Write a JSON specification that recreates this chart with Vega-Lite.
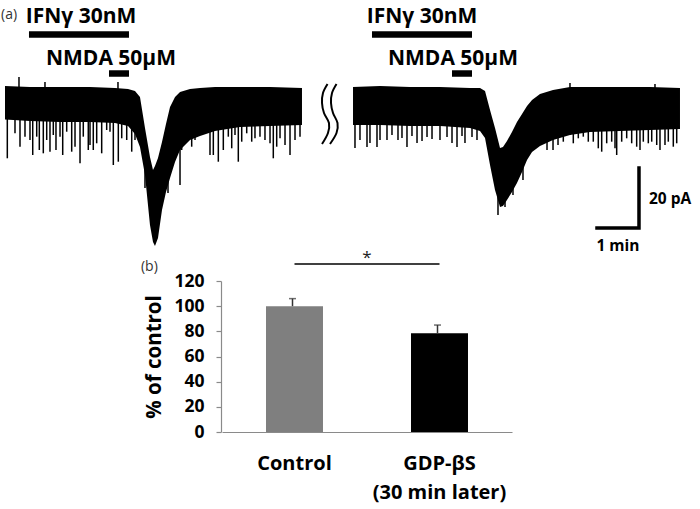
{
  "$schema": "https://vega.github.io/schema/vega-lite/v6.json",
  "width": 700,
  "height": 509,
  "padding": 0,
  "autosize": {"type": "none"},
  "background": "white",
  "config": {"view": {"stroke": null}, "font": "Open Sans"},
  "datasets": {
    "trace": [
      {"trace": "1", "t": 0, "top": 4.67, "bot": -6.5},
      {"trace": "1", "t": 0.595, "top": 4.33, "bot": -7},
      {"trace": "1", "t": 1.31, "top": 4.33, "bot": -7.33},
      {"trace": "1", "t": 2.024, "top": 4.33, "bot": -7.33},
      {"trace": "1", "t": 2.619, "top": 4, "bot": -7.67},
      {"trace": "1", "t": 2.929, "top": 3.67, "bot": -8.67},
      {"trace": "1", "t": 3.095, "top": 3, "bot": -11.33},
      {"trace": "1", "t": 3.214, "top": 1, "bot": -15.67},
      {"trace": "1", "t": 3.333, "top": -9.33, "bot": -25},
      {"trace": "1", "t": 3.452, "top": -19, "bot": -41.67},
      {"trace": "1", "t": 3.524, "top": -23.33, "bot": -47.33},
      {"trace": "1", "t": 3.571, "top": -22, "bot": -48.67},
      {"trace": "1", "t": 3.643, "top": -19.33, "bot": -46},
      {"trace": "1", "t": 3.738, "top": -14, "bot": -36.67},
      {"trace": "1", "t": 3.833, "top": -8, "bot": -30.67},
      {"trace": "1", "t": 3.929, "top": -2.33, "bot": -26},
      {"trace": "1", "t": 4.048, "top": 1, "bot": -20.67},
      {"trace": "1", "t": 4.167, "top": 2.67, "bot": -16.67},
      {"trace": "1", "t": 4.405, "top": 3.67, "bot": -13.33},
      {"trace": "1", "t": 4.643, "top": 4, "bot": -12},
      {"trace": "1", "t": 5, "top": 4.33, "bot": -10.33},
      {"trace": "1", "t": 5.595, "top": 4.33, "bot": -9},
      {"trace": "1", "t": 6.31, "top": 4.33, "bot": -8.67},
      {"trace": "1", "t": 7.071, "top": 4, "bot": -8.33},
      {"trace": "2", "t": 8.286, "top": 4.33, "bot": -8.33},
      {"trace": "2", "t": 8.929, "top": 4.67, "bot": -8.33},
      {"trace": "2", "t": 9.643, "top": 4.33, "bot": -8.67},
      {"trace": "2", "t": 10.357, "top": 4.33, "bot": -8.67},
      {"trace": "2", "t": 11.071, "top": 4, "bot": -9.33},
      {"trace": "2", "t": 11.31, "top": 4, "bot": -10.33},
      {"trace": "2", "t": 11.429, "top": 3, "bot": -12.67},
      {"trace": "2", "t": 11.548, "top": -3.33, "bot": -21.67},
      {"trace": "2", "t": 11.667, "top": -9.33, "bot": -30},
      {"trace": "2", "t": 11.786, "top": -16, "bot": -35.67},
      {"trace": "2", "t": 11.857, "top": -15.67, "bot": -35.33},
      {"trace": "2", "t": 11.952, "top": -13.67, "bot": -33.33},
      {"trace": "2", "t": 12.071, "top": -10.67, "bot": -30.67},
      {"trace": "2", "t": 12.19, "top": -7.33, "bot": -27.67},
      {"trace": "2", "t": 12.31, "top": -4.67, "bot": -24},
      {"trace": "2", "t": 12.429, "top": -2, "bot": -20},
      {"trace": "2", "t": 12.548, "top": 0, "bot": -17.33},
      {"trace": "2", "t": 12.738, "top": 2, "bot": -15.33},
      {"trace": "2", "t": 13.048, "top": 3.33, "bot": -13.33},
      {"trace": "2", "t": 13.452, "top": 4.33, "bot": -11.67},
      {"trace": "2", "t": 13.929, "top": 4.33, "bot": -10.67},
      {"trace": "2", "t": 14.643, "top": 4.33, "bot": -10.33},
      {"trace": "2", "t": 15.357, "top": 4.33, "bot": -10},
      {"trace": "2", "t": 16.071, "top": 4, "bot": -9.67}
    ],
    "spikes": [
      {"t": 0.055, "base": -5, "peak": -19.43},
      {"t": 0.238, "base": -5, "peak": -11.1},
      {"t": 0.357, "base": -5, "peak": -15.57},
      {"t": 0.476, "base": -5, "peak": -12.23},
      {"t": 0.595, "base": -5, "peak": -13.33},
      {"t": 0.66, "base": -5, "peak": -18.33},
      {"t": 0.755, "base": -5, "peak": -12.23},
      {"t": 0.817, "base": -5, "peak": -16.67},
      {"t": 0.912, "base": -5, "peak": -17.77},
      {"t": 0.993, "base": -5, "peak": -13.33},
      {"t": 1.071, "base": -5, "peak": -17.23},
      {"t": 1.15, "base": -5, "peak": -11.67},
      {"t": 1.214, "base": -5, "peak": -16.67},
      {"t": 1.31, "base": -5, "peak": -12.23},
      {"t": 1.374, "base": -5, "peak": -18.33},
      {"t": 1.469, "base": -5, "peak": -10.57},
      {"t": 1.588, "base": -5, "peak": -17.23},
      {"t": 1.667, "base": -5, "peak": -15.57},
      {"t": 1.786, "base": -5, "peak": -21.1},
      {"t": 1.864, "base": -5, "peak": -12.23},
      {"t": 1.983, "base": -5, "peak": -16.67},
      {"t": 2.024, "base": -5, "peak": -15},
      {"t": 2.102, "base": -5, "peak": -16.67},
      {"t": 2.183, "base": -5, "peak": -14.43},
      {"t": 2.302, "base": -5, "peak": -17.77},
      {"t": 2.421, "base": -5, "peak": -10},
      {"t": 2.5, "base": -5, "peak": -10.57},
      {"t": 2.579, "base": -5, "peak": -21.67},
      {"t": 2.698, "base": -5, "peak": -20.57},
      {"t": 2.779, "base": -5, "peak": -12.77},
      {"t": 2.898, "base": -5, "peak": -13.33},
      {"t": 3.017, "base": -5, "peak": -17.23},
      {"t": 3.095, "base": -5, "peak": -13.33},
      {"t": 3.333, "base": -20, "peak": -29.33},
      {"t": 3.881, "base": -22, "peak": -31},
      {"t": 4.167, "base": -14, "peak": -28.33},
      {"t": 4.207, "base": -10, "peak": -16.67},
      {"t": 4.326, "base": -10, "peak": -13.9},
      {"t": 4.445, "base": -8, "peak": -15.57},
      {"t": 4.524, "base": -8, "peak": -13.33},
      {"t": 4.643, "base": -8, "peak": -11.1},
      {"t": 4.762, "base": -8, "peak": -10.57},
      {"t": 4.881, "base": -7, "peak": -18.33},
      {"t": 4.96, "base": -7, "peak": -18.33},
      {"t": 5.079, "base": -7, "peak": -20.57},
      {"t": 5.198, "base": -7, "peak": -16.67},
      {"t": 5.317, "base": -7, "peak": -12.23},
      {"t": 5.398, "base": -7, "peak": -16.1},
      {"t": 5.476, "base": -7, "peak": -11.67},
      {"t": 5.555, "base": -7, "peak": -20.57},
      {"t": 5.636, "base": -7, "peak": -13.9},
      {"t": 5.755, "base": -7, "peak": -11.1},
      {"t": 5.874, "base": -7, "peak": -13.9},
      {"t": 5.952, "base": -7, "peak": -12.77},
      {"t": 6.071, "base": -7, "peak": -12.23},
      {"t": 6.19, "base": -7, "peak": -13.33},
      {"t": 6.31, "base": -7, "peak": -14.43},
      {"t": 6.388, "base": -7, "peak": -19.43},
      {"t": 6.469, "base": -7, "peak": -15.57},
      {"t": 6.548, "base": -7, "peak": -12.77},
      {"t": 6.667, "base": -7, "peak": -15},
      {"t": 6.786, "base": -7, "peak": -18.33},
      {"t": 6.905, "base": -7, "peak": -13.33},
      {"t": 7.024, "base": -7, "peak": -12.23},
      {"t": 0.333, "base": 3, "peak": 7.67},
      {"t": 0.952, "base": 3, "peak": 6},
      {"t": 2.69, "base": 3, "peak": 6},
      {"t": 8.333, "base": -6, "peak": -16},
      {"t": 8.452, "base": -6, "peak": -13.33},
      {"t": 8.619, "base": -6, "peak": -15.67},
      {"t": 8.69, "base": -6, "peak": -14.33},
      {"t": 8.857, "base": -6, "peak": -15.67},
      {"t": 8.929, "base": -6, "peak": -13.33},
      {"t": 9.095, "base": -6, "peak": -13.33},
      {"t": 9.214, "base": -6, "peak": -11.67},
      {"t": 9.357, "base": -6, "peak": -13.33},
      {"t": 9.452, "base": -6, "peak": -12.67},
      {"t": 9.571, "base": -6, "peak": -15.67},
      {"t": 9.69, "base": -6, "peak": -12},
      {"t": 9.81, "base": -6, "peak": -14.33},
      {"t": 9.929, "base": -6, "peak": -13.67},
      {"t": 10.048, "base": -6, "peak": -12.33},
      {"t": 10.167, "base": -6, "peak": -13},
      {"t": 10.357, "base": -6, "peak": -13.33},
      {"t": 10.524, "base": -6, "peak": -12.33},
      {"t": 10.643, "base": -6, "peak": -14.33},
      {"t": 10.762, "base": -6, "peak": -15.67},
      {"t": 10.881, "base": -6, "peak": -12},
      {"t": 10.952, "base": -6, "peak": -14.33},
      {"t": 11.119, "base": -6, "peak": -12.33},
      {"t": 11.238, "base": -6, "peak": -13.33},
      {"t": 11.738, "base": -30, "peak": -38.33},
      {"t": 11.905, "base": -30, "peak": -35.67},
      {"t": 12.095, "base": -25, "peak": -31.67},
      {"t": 12.333, "base": -20, "peak": -26.67},
      {"t": 12.429, "base": -12, "peak": -15.67},
      {"t": 12.571, "base": -12, "peak": -16.67},
      {"t": 12.738, "base": -10, "peak": -14.33},
      {"t": 12.905, "base": -10, "peak": -16.67},
      {"t": 13.048, "base": -9, "peak": -16.67},
      {"t": 13.167, "base": -9, "peak": -15},
      {"t": 13.293, "base": -8, "peak": -13.9},
      {"t": 13.452, "base": -8, "peak": -11.67},
      {"t": 13.452, "base": 3, "peak": 5.67},
      {"t": 13.531, "base": -8, "peak": -14.43},
      {"t": 13.65, "base": -8, "peak": -12.77},
      {"t": 13.769, "base": -8, "peak": -12.23},
      {"t": 13.888, "base": -8, "peak": -13.9},
      {"t": 14.007, "base": -8, "peak": -13.9},
      {"t": 14.126, "base": -8, "peak": -16.1},
      {"t": 14.207, "base": -8, "peak": -17.23},
      {"t": 14.326, "base": -8, "peak": -14.43},
      {"t": 14.445, "base": -8, "peak": -13.9},
      {"t": 14.524, "base": -8, "peak": -16.1},
      {"t": 14.564, "base": -8, "peak": -18.33},
      {"t": 14.683, "base": -8, "peak": -13.9},
      {"t": 14.802, "base": -8, "peak": -12.77},
      {"t": 14.921, "base": -8, "peak": -14.43},
      {"t": 15.04, "base": -8, "peak": -15.57},
      {"t": 15.119, "base": -8, "peak": -16.67},
      {"t": 15.198, "base": -8, "peak": -13.9},
      {"t": 15.317, "base": -8, "peak": -14.43},
      {"t": 15.398, "base": -8, "peak": -13.9},
      {"t": 15.517, "base": -8, "peak": -15},
      {"t": 15.595, "base": -8, "peak": -16.67},
      {"t": 15.714, "base": -8, "peak": -15},
      {"t": 15.793, "base": -8, "peak": -13.9},
      {"t": 15.912, "base": -8, "peak": -15.57},
      {"t": 15.993, "base": -8, "peak": -14.43},
      {"t": 15.476, "base": 3, "peak": 5.33}
    ],
    "drugbars": [
      {"drug": "IFNγ", "t": 0.571, "t2": 2.952, "I": 21.83},
      {"drug": "NMDA", "t": 2.476, "t2": 2.952, "I": 8.83},
      {"drug": "IFNγ", "t": 8.738, "t2": 11.119, "I": 21.83},
      {"drug": "NMDA", "t": 10.643, "t2": 11.119, "I": 8.83}
    ],
    "labels": [
      {"kind": "drug", "text": "IFNγ 30nM", "t": 1.81, "I": 27.83},
      {"kind": "drug", "text": "IFNγ 30nM", "t": 9.929, "I": 27.83},
      {"kind": "drug", "text": "NMDA 50μM", "t": 2.524, "I": 13.67},
      {"kind": "drug", "text": "NMDA 50μM", "t": 10.667, "I": 13.67},
      {"kind": "scaleL", "text": "20 pA", "t": 15.333, "I": -33},
      {"kind": "scaleC", "text": "1 min", "t": 14.595, "I": -48.67},
      {"kind": "panel", "text": "(a)", "t": -0.095, "I": 28.33},
      {"kind": "panel", "text": "(b)", "t": 3.238, "I": -55.67},
      {"kind": "star", "text": "*", "t": 8.619, "I": -54.33}
    ],
    "breakmark": [
      {"curve": "1", "k": 0, "t": 7.679, "I": 5.33},
      {"curve": "1", "k": 1, "t": 7.571, "I": 2.33},
      {"curve": "1", "k": 2, "t": 7.548, "I": -1},
      {"curve": "1", "k": 3, "t": 7.595, "I": -4.33},
      {"curve": "1", "k": 4, "t": 7.714, "I": -7.67},
      {"curve": "1", "k": 5, "t": 7.69, "I": -11},
      {"curve": "1", "k": 6, "t": 7.548, "I": -14.67},
      {"curve": "2", "k": 0, "t": 7.893, "I": 5.33},
      {"curve": "2", "k": 1, "t": 7.786, "I": 2.33},
      {"curve": "2", "k": 2, "t": 7.762, "I": -1},
      {"curve": "2", "k": 3, "t": 7.81, "I": -4.33},
      {"curve": "2", "k": 4, "t": 7.917, "I": -7.67},
      {"curve": "2", "k": 5, "t": 7.893, "I": -11},
      {"curve": "2", "k": 6, "t": 7.738, "I": -14.67}
    ],
    "scalebar": [
      {"k": 0, "t": 15.095, "I": -22.67},
      {"k": 1, "t": 15.095, "I": -42.67},
      {"k": 2, "t": 14.095, "I": -42.67}
    ],
    "bars": [
      {"group": "Control", "value": 100, "hi": 106},
      {"group": "GDP-βS", "value": 78.5, "hi": 85}
    ],
    "sig": [
      {"from": "Control", "to": "GDP-βS", "level": 133.5}
    ]
  },
  "resolve": {
    "scale": {"x": "independent", "y": "independent", "color": "independent"},
    "axis": {"x": "independent", "y": "independent"}
  },
  "layer": [
    {
      "layer": [
        {
          "data": {"name": "trace"},
          "mark": {"type": "area", "color": "black", "interpolate": "linear"},
          "encoding": {
            "x": {"field": "t", "type": "quantitative", "axis": null, "scale": {"domain": [-0.119048, 16.547619], "nice": false, "zero": false}},
            "y": {"field": "top", "type": "quantitative", "axis": null, "scale": {"domain": [-136.3333, 33.3333], "nice": false, "zero": false}},
            "y2": {"field": "bot"},
            "detail": {"field": "trace"}
          }
        },
        {
          "data": {"name": "spikes"},
          "mark": {"type": "rule", "color": "black", "strokeWidth": 1.5},
          "encoding": {
            "x": {"field": "t", "type": "quantitative", "axis": null, "scale": {"domain": [-0.119048, 16.547619], "nice": false, "zero": false}},
            "y": {"field": "base", "type": "quantitative", "axis": null, "scale": {"domain": [-136.3333, 33.3333], "nice": false, "zero": false}},
            "y2": {"field": "peak"}
          }
        },
        {
          "data": {"name": "drugbars"},
          "mark": {"type": "rule", "color": "black", "strokeWidth": 6.5, "strokeCap": "butt"},
          "encoding": {
            "x": {"field": "t", "type": "quantitative", "axis": null, "scale": {"domain": [-0.119048, 16.547619], "nice": false, "zero": false}},
            "x2": {"field": "t2"},
            "y": {"field": "I", "type": "quantitative", "axis": null, "scale": {"domain": [-136.3333, 33.3333], "nice": false, "zero": false}}
          }
        },
        {
          "data": {"name": "labels"},
          "transform": [{"filter": "datum.kind == 'drug'"}],
          "mark": {"type": "text", "font": "Open Sans", "fontWeight": "bold", "fontSize": 21, "align": "center", "baseline": "middle", "color": "black"},
          "encoding": {
            "x": {"field": "t", "type": "quantitative", "axis": null, "scale": {"domain": [-0.119048, 16.547619], "nice": false, "zero": false}},
            "y": {"field": "I", "type": "quantitative", "axis": null, "scale": {"domain": [-136.3333, 33.3333], "nice": false, "zero": false}},
            "text": {"field": "text"}
          }
        },
        {
          "data": {"name": "labels"},
          "transform": [{"filter": "datum.kind == 'scaleL'"}],
          "mark": {"type": "text", "font": "Open Sans", "fontWeight": "bold", "fontSize": 15.5, "align": "left", "baseline": "middle", "color": "black"},
          "encoding": {
            "x": {"field": "t", "type": "quantitative", "axis": null, "scale": {"domain": [-0.119048, 16.547619], "nice": false, "zero": false}},
            "y": {"field": "I", "type": "quantitative", "axis": null, "scale": {"domain": [-136.3333, 33.3333], "nice": false, "zero": false}},
            "text": {"field": "text"}
          }
        },
        {
          "data": {"name": "labels"},
          "transform": [{"filter": "datum.kind == 'scaleC'"}],
          "mark": {"type": "text", "font": "Open Sans", "fontWeight": "bold", "fontSize": 15.5, "align": "center", "baseline": "middle", "color": "black"},
          "encoding": {
            "x": {"field": "t", "type": "quantitative", "axis": null, "scale": {"domain": [-0.119048, 16.547619], "nice": false, "zero": false}},
            "y": {"field": "I", "type": "quantitative", "axis": null, "scale": {"domain": [-136.3333, 33.3333], "nice": false, "zero": false}},
            "text": {"field": "text"}
          }
        },
        {
          "data": {"name": "labels"},
          "transform": [{"filter": "datum.kind == 'panel'"}],
          "mark": {"type": "text", "font": "Open Sans", "fontSize": 14, "align": "left", "baseline": "middle", "color": "#333333"},
          "encoding": {
            "x": {"field": "t", "type": "quantitative", "axis": null, "scale": {"domain": [-0.119048, 16.547619], "nice": false, "zero": false}},
            "y": {"field": "I", "type": "quantitative", "axis": null, "scale": {"domain": [-136.3333, 33.3333], "nice": false, "zero": false}},
            "text": {"field": "text"}
          }
        },
        {
          "data": {"name": "labels"},
          "transform": [{"filter": "datum.kind == 'star'"}],
          "mark": {"type": "text", "font": "Open Sans", "fontSize": 17, "align": "center", "baseline": "alphabetic", "color": "#222222"},
          "encoding": {
            "x": {"field": "t", "type": "quantitative", "axis": null, "scale": {"domain": [-0.119048, 16.547619], "nice": false, "zero": false}},
            "y": {"field": "I", "type": "quantitative", "axis": null, "scale": {"domain": [-136.3333, 33.3333], "nice": false, "zero": false}},
            "text": {"field": "text"}
          }
        },
        {
          "data": {"name": "breakmark"},
          "mark": {"type": "line", "color": "black", "strokeWidth": 2, "interpolate": "cardinal"},
          "encoding": {
            "x": {"field": "t", "type": "quantitative", "axis": null, "scale": {"domain": [-0.119048, 16.547619], "nice": false, "zero": false}},
            "y": {"field": "I", "type": "quantitative", "axis": null, "scale": {"domain": [-136.3333, 33.3333], "nice": false, "zero": false}},
            "detail": {"field": "curve"},
            "order": {"field": "k"}
          }
        },
        {
          "data": {"name": "scalebar"},
          "mark": {"type": "line", "color": "black", "strokeWidth": 3.5, "strokeJoin": "miter", "strokeCap": "square"},
          "encoding": {
            "x": {"field": "t", "type": "quantitative", "axis": null, "scale": {"domain": [-0.119048, 16.547619], "nice": false, "zero": false}},
            "y": {"field": "I", "type": "quantitative", "axis": null, "scale": {"domain": [-136.3333, 33.3333], "nice": false, "zero": false}},
            "order": {"field": "k"}
          }
        }
      ]
    },
    {
      "layer": [
        {
          "data": {"name": "bars"},
          "mark": {"type": "bar"},
          "encoding": {
            "x": {
              "field": "group", "type": "nominal", "sort": null,
              "scale": {"domain": ["Control", "GDP-βS"], "range": [222, 512], "paddingInner": 0.607, "paddingOuter": 0.3035},
              "axis": {
                "orient": "bottom", "offset": -77, "title": null, "ticks": false,
                "domainColor": "#8a8a8a", "domainWidth": 1.2,
                "labelAngle": 0, "labelFont": "Open Sans", "labelFontWeight": "bold", "labelFontSize": 20,
                "labelColor": "black", "labelPadding": 21, "labelLineHeight": 29, "labelBaseline": "top",
                "labelExpr": "datum.value == 'GDP-βS' ? ['GDP-βS', '(30 min later)'] : datum.label"
              }
            },
            "y": {
              "field": "value", "type": "quantitative",
              "scale": {"domain": [0, 120], "range": [432, 281], "nice": false, "zero": true},
              "axis": {
                "orient": "left", "offset": -221, "values": [0, 20, 40, 60, 80, 100, 120], "grid": false,
                "domainColor": "#8a8a8a", "domainWidth": 1.2, "tickColor": "#8a8a8a", "tickSize": 5, "tickWidth": 1.2,
                "labelFont": "Open Sans", "labelFontWeight": "bold", "labelFontSize": 17.5, "labelColor": "black", "labelPadding": 12,
                "title": "% of control", "titleFont": "Open Sans", "titleFontWeight": "bold", "titleFontSize": 20.5, "titleColor": "black", "titlePadding": 9
              }
            },
            "color": {"field": "group", "type": "nominal", "legend": null, "scale": {"domain": ["Control", "GDP-βS"], "range": ["#7f7f7f", "#000000"]}}
          }
        },
        {
          "data": {"name": "bars"},
          "mark": {"type": "rule", "color": "#333333", "strokeWidth": 1.5, "xOffset": -2},
          "encoding": {
            "x": {"field": "group", "type": "nominal", "scale": {"domain": ["Control", "GDP-βS"], "range": [222, 512], "paddingInner": 0.607, "paddingOuter": 0.3035}},
            "y": {"field": "value", "type": "quantitative", "scale": {"domain": [0, 120], "range": [432, 281], "nice": false}},
            "y2": {"field": "hi"}
          }
        },
        {
          "data": {"name": "bars"},
          "mark": {"type": "tick", "color": "#333333", "thickness": 1.5, "size": 7, "orient": "horizontal", "xOffset": -2},
          "encoding": {
            "x": {"field": "group", "type": "nominal", "scale": {"domain": ["Control", "GDP-βS"], "range": [222, 512], "paddingInner": 0.607, "paddingOuter": 0.3035}},
            "y": {"field": "hi", "type": "quantitative", "scale": {"domain": [0, 120], "range": [432, 281], "nice": false}}
          }
        },
        {
          "data": {"name": "sig"},
          "mark": {"type": "rule", "color": "black", "strokeWidth": 1.5},
          "encoding": {
            "x": {"field": "from", "type": "nominal", "scale": {"domain": ["Control", "GDP-βS"], "range": [222, 512], "paddingInner": 0.607, "paddingOuter": 0.3035}},
            "x2": {"field": "to"},
            "y": {"field": "level", "type": "quantitative", "scale": {"domain": [0, 120], "range": [432, 281], "nice": false}}
          }
        }
      ]
    }
  ]
}
